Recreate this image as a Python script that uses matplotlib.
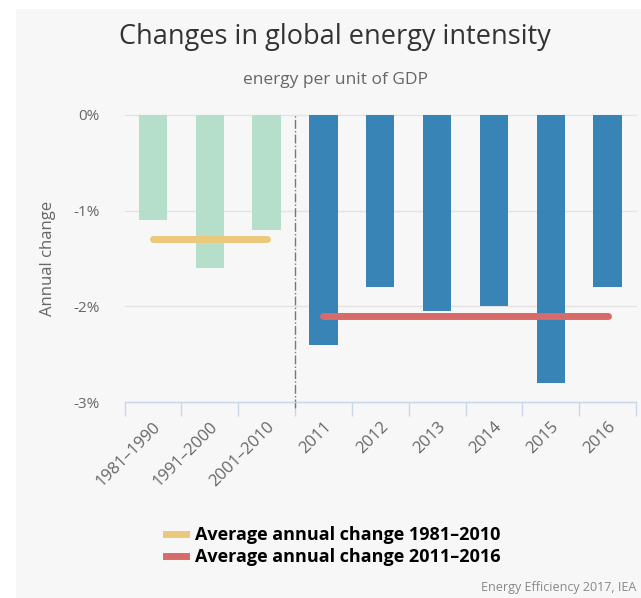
import matplotlib.pyplot as plt
import numpy as np
from matplotlib.lines import Line2D
from matplotlib.patches import Rectangle

plt.rcParams['font.family'] = ['Open Sans', 'DejaVu Sans']

# data (annual change, %)
periods = ['1981-1990', '1991-2000', '2001-2010']
period_change = [-1.1, -1.6, -1.2]
years = ['2011', '2012', '2013', '2014', '2015', '2016']
year_change = [-2.4, -1.8, -2.05, -2.0, -2.8, -1.8]
avg_1981_2010 = -1.3
avg_2011_2016 = -2.1

labels = [p.replace('-', '\u2013') for p in periods] + years
x_old = np.arange(len(periods))
x_new = np.arange(len(periods), len(labels))

fig = plt.figure(figsize=(6.41, 5.98), dpi=100, facecolor='white')
fig.patches.append(Rectangle((16 / 641, 0), 1, 1 - 9 / 598, transform=fig.transFigure,
                             facecolor='#f7f7f7', edgecolor='none', zorder=-10))
ax = fig.add_axes([124.5 / 641, 1 - 402 / 598, (636 - 124.5) / 641, (402 - 115) / 598])
ax.set_facecolor('#f7f7f7')

ax.bar(x_old, period_change, width=0.5, color='#b5dfca', zorder=2)
ax.bar(x_new, year_change, width=0.5, color='#3884b6', zorder=2)

# average lines
ax.hlines(avg_1981_2010, x_old[0], x_old[-1], color='#ebc97c', lw=5, capstyle='round', zorder=3)
ax.hlines(avg_2011_2016, x_new[0], x_new[-1], color='#d86b69', lw=5, capstyle='round', zorder=3)

# separator between periods and years
sep = ax.axvline(len(periods) - 0.5, ymin=-0.02, ymax=1, color='#777777', lw=1, ls='-.', zorder=1)
sep.set_clip_on(False)

ax.set_xlim(-0.5, len(labels) - 0.5)
ax.set_ylim(-3, 0)
ax.set_yticks([0, -1, -2, -3])
ax.set_yticklabels(['0%', '-1%', '-2%', '-3%'])
ax.yaxis.grid(True, color='#e3e3e3', lw=1)
ax.set_axisbelow(True)
ax.tick_params(axis='y', length=0, pad=18, labelsize=11, labelcolor='#666666')

ax.set_xticks(np.arange(len(labels) + 1) - 0.5, minor=True)
ax.set_xticks(np.arange(len(labels)))
ax.set_xticklabels(labels, rotation=45, ha='right', rotation_mode='anchor',
                   fontsize=12, color='#666666')
ax.tick_params(axis='x', which='major', length=0, pad=12)
ax.tick_params(axis='x', which='minor', length=10, color='#ccd6eb', width=1)

for side in ['top', 'right', 'left']:
    ax.spines[side].set_visible(False)
ax.spines['bottom'].set_color('#ccd6eb')
ax.spines['bottom'].set_linewidth(1)
for gl in ax.get_ygridlines():
    gl.set_clip_on(False)

ax.set_ylabel('Annual change', fontsize=12, color='#666666', labelpad=12)

fig.text(0.523, 1 - 37 / 598, 'Changes in global energy intensity', ha='center', va='center',
         fontsize=19.5, color='#333333')
fig.text(0.523, 1 - 80 / 598, 'energy per unit of GDP', ha='center', va='center',
         fontsize=12.5, color='#666666')

handles = [Line2D([], [], color='#ebc97c', lw=5),
           Line2D([], [], color='#d86b69', lw=5)]
fig.legend(handles, ['Average annual change 1981\u20132010', 'Average annual change 2011\u20132016'],
           loc='upper left', bbox_to_anchor=(150 / 641, 1 - 510 / 598), frameon=False,
           prop={'weight': 'bold', 'size': 13}, handlelength=1.1, labelspacing=0.2,
           handletextpad=0.5)

fig.text(636 / 641, 1 - 588 / 598, 'Energy Efficiency 2017, IEA', ha='right', va='center',
         fontsize=9, color='#888888')

fig.savefig('out.png', dpi=100, facecolor=fig.get_facecolor())
